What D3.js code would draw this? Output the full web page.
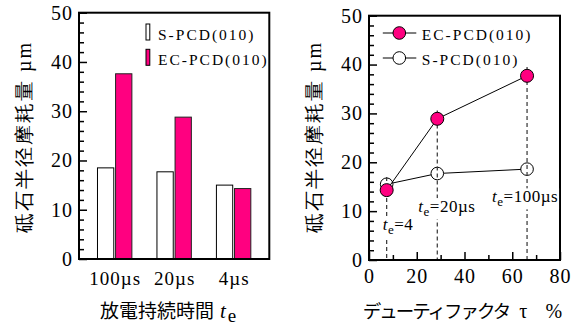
<!DOCTYPE html>
<html>
<head>
<meta charset="utf-8">
<script src="https://cdn.jsdelivr.net/npm/d3@7"></script>
<style>
body { margin: 0; background: #fff; }
text, tspan { font-family: "Liberation Serif", "Tinos", "Times New Roman", "DejaVu Serif", serif; fill: #000; }
.jp { font-family: "Noto Sans CJK JP", sans-serif; }
</style>
</head>
<body>
<svg width="581" height="327"></svg>
<script>
// left: bars per pulse duration
var groups = ["100µs", "20µs", "4µs"],
    sBar = [18.5, 17.7, 15.0],
    ecBar = [37.6, 28.8, 14.3];

// right: wear vs duty factor
var duty = [7.4, 28.6, 66.2],
    ecLine = [14.3, 28.9, 37.7],
    sLine = [15.5, 17.7, 18.6],
    guideTop = [17, 30.6, 39.5],
    pulse = ["4", "20µs", "100µs"];

var yTicks = [0, 10, 20, 30, 40, 50],
    yMinor = [2, 4, 6, 8, 12, 14, 16, 18, 22, 24, 26, 28, 32, 34, 36, 38, 42, 44, 46, 48],
    xTicks = [0, 20, 40, 60, 80],
    xMinor = [10, 30, 50, 70];

var pink = "#ff0080";
var serif = "'Liberation Serif', 'Tinos', 'Times New Roman', 'DejaVu Serif', serif";
var svg = d3.select("svg");

function yAxisLabel(x) {
  var t = svg.append("text")
      .attr("class", "jp")
      .attr("transform", "translate(" + x + ",137) rotate(-90)")
      .attr("text-anchor", "middle")
      .attr("dy", "0.35em")
      .style("font-size", "19.5px")
      .style("letter-spacing", "2px");
  t.append("tspan").text("砥石半径摩耗量 ");
  t.append("tspan").style("font-family", serif).style("font-size", "20px").text("µm");
}

function styleAxis(g) {
  g.select(".domain").remove();
  g.attr("font-family", null).attr("font-size", null);
  g.selectAll("line").attr("stroke-width", 1.5);
  g.selectAll("text").style("font-family", serif).style("font-size", "20px").style("letter-spacing", "1px");
}

// ---------- left chart ----------
var L = {left: 79, right: 269.3, top: 12.7, bottom: 259};
var yL = d3.scaleLinear().domain([0, 50]).range([L.bottom, L.top]);
var xL = d3.scalePoint().domain(groups).range([L.left, L.right]).padding(0.6);
var inner = d3.scaleBand().domain(["s", "ec"]).range([-17.2, 17.2]).paddingInner(0.1);

var gl = svg.append("g");

var bars = gl.selectAll(".grp")
  .data(groups)
  .enter().append("g")
    .attr("class", "grp")
    .attr("transform", function(d) { return "translate(" + xL(d) + ",0)"; });

bars.append("rect")
    .attr("x", inner("s"))
    .attr("width", inner.bandwidth())
    .attr("y", function(d, i) { return yL(sBar[i]); })
    .attr("height", function(d, i) { return L.bottom - yL(sBar[i]); })
    .attr("fill", "#fff").attr("stroke", "#000").attr("stroke-width", 1);

bars.append("rect")
    .attr("x", inner("ec"))
    .attr("width", inner.bandwidth())
    .attr("y", function(d, i) { return yL(ecBar[i]); })
    .attr("height", function(d, i) { return L.bottom - yL(ecBar[i]); })
    .attr("fill", pink).attr("stroke", "#222").attr("stroke-width", 1);

gl.append("g")
    .attr("transform", "translate(" + L.left + ",0)")
    .call(d3.axisLeft(yL).tickValues(yTicks).tickSizeInner(-8).tickSizeOuter(0).tickPadding(6))
    .call(styleAxis);

gl.append("g")
    .attr("transform", "translate(" + L.left + ",0)")
    .call(d3.axisLeft(yL).tickValues(yMinor).tickSizeInner(-5).tickSizeOuter(0).tickFormat(""))
    .call(styleAxis);

gl.append("g")
    .attr("transform", "translate(0," + L.bottom + ")")
    .call(d3.axisBottom(xL).tickSize(0).tickPadding(13))
    .call(styleAxis)
    .selectAll("text").style("font-size", "19px").style("letter-spacing", "1px");

gl.append("rect")
    .attr("x", L.left).attr("y", L.top)
    .attr("width", L.right - L.left).attr("height", L.bottom - L.top)
    .attr("fill", "none").attr("stroke", "#000").attr("stroke-width", 2);

// legend
var legL = [{name: "S-PCD(010)", fill: "#fff"}, {name: "EC-PCD(010)", fill: pink}];
var lg = gl.selectAll(".leg")
  .data(legL)
  .enter().append("g")
    .attr("transform", function(d, i) { return "translate(146," + (24 + i * 25.3) + ")"; });
lg.append("rect").attr("width", 3.8).attr("height", 16)
    .attr("fill", function(d) { return d.fill; }).attr("stroke", "#000").attr("stroke-width", 1);
lg.append("text").attr("x", 12).attr("y", 16)
    .style("font-family", serif).style("font-size", "15.5px").style("letter-spacing", "2px")
    .text(function(d) { return d.name; });

yAxisLabel(24);

var xl = svg.append("text").attr("x", 100).attr("y", 318).style("font-size", "19px");
xl.append("tspan").attr("class", "jp").text("放電持続時間");
xl.append("tspan").attr("dx", 6).style("font-family", serif).style("font-style", "italic").style("font-size", "21px").text("t");
xl.append("tspan").attr("dx", 2).attr("dy", 4).style("font-family", serif).style("font-size", "19px").text("e");

// ---------- right chart ----------
var R = {left: 369, right: 560, top: 15.7, bottom: 260};
var xR = d3.scaleLinear().domain([0, 80]).range([R.left, R.right]);
var yR = d3.scaleLinear().domain([0, 50]).range([R.bottom, R.top]);

var gr = svg.append("g");

gr.append("g")
    .attr("transform", "translate(" + R.left + ",0)")
    .call(d3.axisLeft(yR).tickValues(yTicks).tickSizeInner(-8).tickSizeOuter(0).tickPadding(6))
    .call(styleAxis);
gr.append("g")
    .attr("transform", "translate(" + R.left + ",0)")
    .call(d3.axisLeft(yR).tickValues(yMinor).tickSizeInner(-5).tickSizeOuter(0).tickFormat(""))
    .call(styleAxis);
gr.append("g")
    .attr("transform", "translate(0," + R.bottom + ")")
    .call(d3.axisBottom(xR).tickValues(xTicks).tickSizeInner(-8).tickSizeOuter(0).tickPadding(9))
    .call(styleAxis);
gr.append("g")
    .attr("transform", "translate(0," + R.bottom + ")")
    .call(d3.axisBottom(xR).tickValues(xMinor).tickSizeInner(-5).tickSizeOuter(0).tickFormat(""))
    .call(styleAxis);

var line = d3.line()
    .x(function(d) { return xR(d[0]); })
    .y(function(d) { return yR(d[1]); });

var sPts = duty.map(function(d, i) { return [d, sLine[i]]; }),
    ecPts = duty.map(function(d, i) { return [d, ecLine[i]]; });

gr.append("path").attr("d", line(sPts)).attr("fill", "none").attr("stroke", "#000").attr("stroke-width", 1);
gr.selectAll(".sdot").data(sPts).enter().append("circle")
    .attr("cx", function(d) { return xR(d[0]); })
    .attr("cy", function(d) { return yR(d[1]); })
    .attr("r", 6.3).attr("fill", "#fff").attr("stroke", "#000").attr("stroke-width", 1);

// dashed guides at each pulse duration
gr.selectAll(".guide").data(duty).enter().append("line")
    .attr("x1", function(d) { return xR(d); }).attr("x2", function(d) { return xR(d); })
    .attr("y1", function(d, i) { return yR(guideTop[i]); }).attr("y2", R.bottom)
    .attr("stroke", "#333").attr("stroke-width", 1.2).attr("stroke-dasharray", "4,3");

gr.append("path").attr("d", line(ecPts)).attr("fill", "none").attr("stroke", "#000").attr("stroke-width", 1);
gr.selectAll(".ecdot").data(ecPts).enter().append("circle")
    .attr("cx", function(d) { return xR(d[0]); })
    .attr("cy", function(d) { return yR(d[1]); })
    .attr("r", 6.5).attr("fill", pink).attr("stroke", "#000").attr("stroke-width", 1);

gr.append("rect")
    .attr("x", R.left).attr("y", R.top)
    .attr("width", R.right - R.left).attr("height", R.bottom - R.top)
    .attr("fill", "none").attr("stroke", "#000").attr("stroke-width", 2);

// annotations
var annoDx = [-4, -19, -35], annoY = [6.1, 9.8, 11.8];
duty.forEach(function(d, i) {
  var a = gr.append("g");
  var t = a.append("text")
      .attr("x", xR(d) + annoDx[i]).attr("y", yR(annoY[i]))
      .style("font-family", serif).style("font-size", "17px").style("letter-spacing", "0.5px");
  t.append("tspan").style("font-style", "italic").text("t");
  t.append("tspan").attr("dy", 4).style("font-size", "13px").text("e");
  t.append("tspan").attr("dy", -4).text("=" + pulse[i]);
  var b = t.node().getBBox();
  a.insert("rect", "text")
      .attr("x", b.x - 1).attr("y", b.y + 1)
      .attr("width", b.width + 2).attr("height", b.height - 1)
      .attr("fill", "#fff");
});

// legend
var legR = [{name: "EC-PCD(010)", fill: pink}, {name: "S-PCD(010)", fill: "#fff"}];
var rg = gr.selectAll(".legr")
  .data(legR)
  .enter().append("g")
    .attr("transform", function(d, i) { return "translate(399.3," + (33 + i * 25) + ")"; });
rg.append("line").attr("x1", -16.5).attr("x2", 17).attr("stroke", "#000").attr("stroke-width", 1);
rg.append("circle").attr("r", 6.3)
    .attr("fill", function(d) { return d.fill; }).attr("stroke", "#000").attr("stroke-width", 1);
rg.append("text").attr("x", 22.5).attr("y", 6.5)
    .style("font-family", serif).style("font-size", "15.5px").style("letter-spacing", "2px")
    .text(function(d) { return d.name; });

yAxisLabel(314);

var xr = svg.append("text").attr("x", 362.7).attr("y", 318);
xr.append("tspan").attr("class", "jp").style("font-size", "18.5px").style("letter-spacing", "-2px").text("デューティファクタ");
xr.append("tspan").attr("dx", 10).style("font-family", serif).style("font-size", "20px").text("τ");
xr.append("tspan").attr("dx", 18).style("font-family", serif).style("font-size", "20px").text("%");
</script>
</body>
</html>
